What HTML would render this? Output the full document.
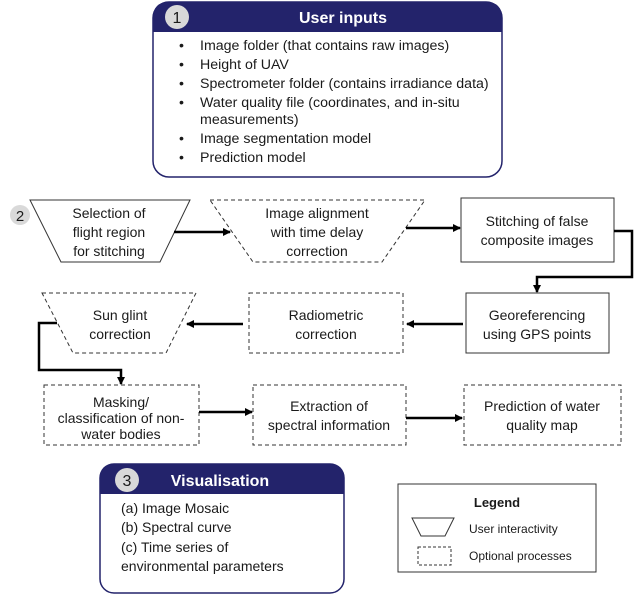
<!DOCTYPE html>
<html><head><meta charset="utf-8"><style>
html,body{margin:0;padding:0;background:#fff;}
svg{display:block;}
text{font-family:"Liberation Sans",sans-serif;fill:#1a1a1a;}
</style></head><body>
<svg width="634" height="599" viewBox="0 0 634 599" xmlns="http://www.w3.org/2000/svg">
<defs>
<marker id="ah" markerWidth="8" markerHeight="8" refX="7" refY="4" orient="auto" markerUnits="userSpaceOnUse">
<path d="M0,0 L8,4 L0,8 z" fill="#000"/></marker>
</defs>

<rect x="153" y="2" width="349" height="175" rx="16" fill="#fff" stroke="#23236b" stroke-width="1.5"/>
<path d="M153,32 L153,18 Q153,2 169,2 L486,2 Q502,2 502,18 L502,32 Z" fill="#23236b"/>
<circle cx="177" cy="17" r="12" fill="#d9d9d9"/>
<text x="177" y="23" font-size="16" text-anchor="middle">1</text>
<text x="343" y="23" font-size="16" font-weight="bold" text-anchor="middle" style="fill:#fff">User inputs</text>
<g font-size="14.2">
<text x="179" y="50">•</text><text x="200" y="50">Image folder (that contains raw images)</text>
<text x="179" y="69">•</text><text x="200" y="69">Height of UAV</text>
<text x="179" y="88">•</text><text x="200" y="88">Spectrometer folder (contains irradiance data)</text>
<text x="179" y="107">•</text><text x="200" y="107">Water quality file (coordinates, and in-situ</text>
<text x="200" y="124">measurements)</text>
<text x="179" y="143">•</text><text x="200" y="143">Image segmentation model</text>
<text x="179" y="162">•</text><text x="200" y="162">Prediction model</text>
</g>

<circle cx="20" cy="215" r="10" fill="#d9d9d9"/>
<text x="20" y="221" font-size="15" text-anchor="middle">2</text>

<g fill="#fff" stroke="#333" stroke-width="1">
<polygon points="30,200 190,200 160,262 61,262"/>
<polygon points="210,200 425,200 382,262 253,262" stroke-dasharray="4,3"/>
<rect x="461" y="198" width="153" height="64"/>
<rect x="466" y="293" width="143" height="60"/>
<rect x="249" y="293" width="154" height="60" stroke-dasharray="4,3"/>
<polygon points="42,293 196,293 166,353 73,353" stroke-dasharray="4,3"/>
<rect x="44" y="385" width="155" height="60" stroke-dasharray="4,3"/>
<rect x="253" y="385" width="153" height="60" stroke-dasharray="4,3"/>
<rect x="464" y="385" width="157" height="60" stroke-dasharray="4,3"/>
</g>

<g font-size="14" text-anchor="middle">
<text x="109" y="218">Selection of</text>
<text x="109" y="237">flight region</text>
<text x="109" y="256">for stitching</text>
<text x="317" y="218">Image alignment</text>
<text x="317" y="237">with time delay</text>
<text x="317" y="256">correction</text>
<text x="537" y="226">Stitching of false</text>
<text x="537" y="245">composite images</text>
<text x="537" y="320">Georeferencing</text>
<text x="537" y="339">using GPS points</text>
<text x="326" y="320">Radiometric</text>
<text x="326" y="339">correction</text>
<text x="120" y="320">Sun glint</text>
<text x="120" y="339">correction</text>
<text x="121" y="407">Masking/</text>
<text x="121" y="423">classification of non-</text>
<text x="121" y="439">water bodies</text>
<text x="329" y="411">Extraction of</text>
<text x="329" y="430">spectral information</text>
<text x="542" y="411">Prediction of water</text>
<text x="542" y="430">quality map</text>
</g>

<g stroke="#000" stroke-width="2.5" fill="none" marker-end="url(#ah)">
<line x1="174" y1="232" x2="230" y2="232"/>
<line x1="406" y1="228" x2="460" y2="228"/>
<polyline points="614,231 632,231 632,277 537,277 537,292"/>
<line x1="463" y1="324" x2="407" y2="324"/>
<line x1="243" y1="324" x2="187" y2="324"/>
<polyline points="57,323 39,323 39,370 121,370 121,384"/>
<line x1="199" y1="412" x2="252" y2="412"/>
<line x1="406" y1="418" x2="462" y2="418"/>
</g>

<rect x="100" y="464" width="244" height="129" rx="14" fill="#fff" stroke="#23236b" stroke-width="1.5"/>
<path d="M100,494 L100,478 Q100,464 114,464 L330,464 Q344,464 344,478 L344,494 Z" fill="#23236b"/>
<circle cx="127" cy="480" r="12" fill="#d9d9d9"/>
<text x="127" y="486" font-size="16" text-anchor="middle">3</text>
<text x="220" y="486" font-size="16" font-weight="bold" text-anchor="middle" style="fill:#fff">Visualisation</text>
<g font-size="14">
<text x="121" y="513">(a) Image Mosaic</text>
<text x="121" y="532">(b) Spectral curve</text>
<text x="121" y="552">(c) Time series of</text>
<text x="121" y="571">environmental parameters</text>
</g>

<rect x="398" y="484" width="198" height="88" fill="#fff" stroke="#333" stroke-width="1"/>
<text x="497" y="507" font-size="13" font-weight="bold" text-anchor="middle">Legend</text>
<polygon points="412,518 454,518 445,536 421,536" fill="#fff" stroke="#333" stroke-width="1"/>
<text x="469" y="533" font-size="12">User interactivity</text>
<rect x="418" y="547" width="33" height="18" fill="#fff" stroke="#333" stroke-width="1" stroke-dasharray="3,2"/>
<text x="469" y="560" font-size="12">Optional processes</text>
</svg>
</body></html>
